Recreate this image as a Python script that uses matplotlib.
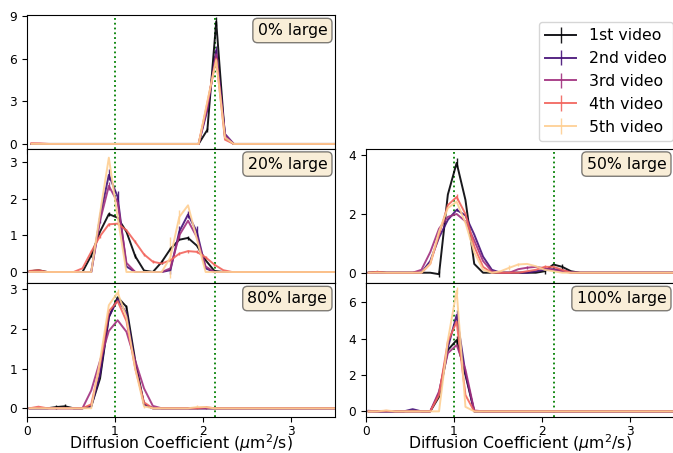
import numpy as np
import matplotlib
matplotlib.use("Agg")
import matplotlib.pyplot as plt

# ---------------- data ----------------
# bin centres (µm^2/s)
X_A = [0.05, 0.15, 0.25, 0.35, 0.45, 0.55, 0.65, 0.75, 0.85, 0.95, 1.05, 1.15,
       1.25, 1.35, 1.45, 1.55, 1.65, 1.75, 1.85, 1.95, 2.05, 2.15, 2.25, 2.35,
       2.45, 2.55, 2.65, 2.75, 2.85, 2.95, 3.05, 3.15, 3.25, 3.35, 3.45, 3.55]
X_B = [0.03, 0.13, 0.23, 0.33, 0.43, 0.53, 0.63, 0.73, 0.83, 0.93, 1.03, 1.13,
       1.23, 1.33, 1.43, 1.53, 1.63, 1.73, 1.83, 1.93, 2.03, 2.13, 2.23, 2.33,
       2.43, 2.53, 2.63, 2.73, 2.83, 2.93, 3.03, 3.13, 3.23, 3.33, 3.43, 3.53]

videos = ["1st video", "2nd video", "3rd video", "4th video", "5th video"]
panels = ["0% large", "20% large", "80% large", "50% large", "100% large"]
ref_lines = [1.0, 2.14]

p0_v1 = [0, 0, 0, 0, 0, 0, 0, 0, 0, 0, 0, 0, 0, 0, 0, 0, 0, 0, 0, 0, 1.0, 8.6, 0.45, 0, 0, 0, 0, 0, 0, 0, 0, 0, 0, 0, 0, 0]
p0_v2 = [0, 0, 0, 0, 0, 0, 0, 0, 0, 0, 0, 0, 0, 0, 0, 0, 0, 0, 0, 0, 2.4, 6.6, 0.7, 0, 0, 0, 0, 0, 0, 0, 0, 0, 0, 0, 0, 0]
p0_v3 = [0, 0, 0, 0, 0, 0, 0, 0, 0, 0, 0, 0, 0, 0, 0, 0, 0, 0, 0, 0, 2.6, 6.3, 0.6, 0, 0, 0, 0, 0, 0, 0, 0, 0, 0, 0, 0, 0]
p0_v4 = [0.05, 0.04, 0, 0, 0, 0, 0, 0, 0, 0, 0, 0, 0, 0, 0, 0, 0, 0, 0, 0, 2.9, 6.0, 0.3, 0, 0, 0, 0, 0, 0, 0, 0, 0, 0, 0, 0, 0]
p0_v5 = [0, 0, 0, 0, 0, 0, 0, 0, 0, 0, 0, 0, 0, 0, 0, 0, 0, 0, 0, 0, 3.0, 5.9, 0.45, 0, 0, 0, 0, 0, 0, 0, 0, 0, 0, 0, 0, 0]

p20_v1 = [0.02, 0.05, 0, 0, 0, 0, 0, 0.45, 1.1, 1.58, 1.48, 1.1, 0.43, 0.04, 0, 0.27, 0.63, 0.88, 0.93, 0.72, 0.32, 0.03, 0, 0, 0, 0, 0, 0, 0, 0, 0, 0, 0, 0, 0, 0]
p20_v2 = [0, 0, 0, 0, 0, 0, 0, 0, 1.5, 2.65, 2.05, 0.15, 0, 0, 0, 0, 0.05, 1.1, 1.57, 1.1, 0.1, 0, 0, 0, 0, 0, 0, 0, 0, 0, 0, 0, 0, 0, 0, 0]
p20_v3 = [0, 0, 0, 0, 0, 0, 0, 0, 1.4, 2.35, 1.9, 0.25, 0, 0, 0, 0, 0.1, 1.0, 1.4, 0.95, 0.15, 0, 0, 0, 0, 0, 0, 0, 0, 0, 0, 0, 0, 0, 0, 0]
p20_v4 = [0.03, 0.05, 0, 0, 0, 0, 0.1, 0.55, 0.98, 1.3, 1.32, 1.14, 0.82, 0.48, 0.28, 0.23, 0.32, 0.5, 0.57, 0.55, 0.4, 0.2, 0.05, 0, 0, 0, 0, 0, 0, 0, 0, 0, 0, 0, 0, 0]
p20_v5 = [0, 0, 0, 0, 0, 0, 0, 0, 1.6, 3.12, 1.5, 0, 0, 0, 0, 0, 0.4, 1.5, 1.82, 0.9, 0, 0, 0, 0, 0, 0, 0, 0, 0, 0, 0, 0, 0, 0, 0, 0]

p80_v1 = [0, 0, 0, 0.03, 0.05, 0, 0, 0.05, 0.75, 2.3, 2.8, 2.56, 1.2, 0.1, 0, 0, 0, 0, 0, 0, 0, 0, 0, 0, 0, 0, 0, 0, 0, 0, 0, 0, 0, 0, 0, 0]
p80_v2 = [0, 0, 0, 0, 0, 0, 0, 0.05, 0.85, 2.3, 2.75, 2.4, 1.1, 0.1, 0, 0, 0, 0, 0, 0, 0, 0, 0, 0, 0, 0, 0, 0, 0, 0, 0, 0, 0, 0, 0, 0]
p80_v3 = [0, 0, 0, 0, 0, 0, 0, 0.45, 1.2, 1.95, 2.22, 1.93, 1.2, 0.5, 0.06, 0, 0, 0, 0, 0, 0, 0, 0, 0, 0, 0, 0, 0, 0, 0, 0, 0, 0, 0, 0, 0]
p80_v4 = [0, 0.04, 0, 0, 0, 0, 0, 0.1, 1.1, 2.45, 2.7, 2.2, 1.0, 0.15, 0, 0, 0, 0, 0, 0, 0.03, 0, 0, 0, 0, 0, 0, 0, 0, 0, 0, 0, 0, 0, 0, 0]
p80_v5 = [0, 0, 0, 0, 0, 0, 0, 0, 1.2, 2.6, 2.92, 2.3, 1.0, 0.05, 0, 0, 0, 0, 0, 0.03, 0.03, 0, 0, 0, 0, 0, 0, 0, 0, 0, 0, 0, 0, 0, 0, 0]

p50_v1 = [0, 0.03, 0, 0, 0, 0, 0, 0, -0.05, 2.66, 3.74, 2.48, 0.3, 0, 0, 0, 0, 0, 0, 0, 0.05, 0.28, 0.2, 0.05, 0, 0, 0, 0, 0, 0, 0, 0, 0, 0, 0, 0]
p50_v2 = [0, 0, 0, 0, 0, 0, 0, 0.4, 1.2, 1.8, 2.14, 1.95, 1.3, 0.55, 0.1, 0, 0, 0, 0, 0.05, 0.1, 0.12, 0.08, 0.03, 0, 0, 0, 0, 0, 0, 0, 0, 0, 0, 0, 0]
p50_v3 = [0, 0, 0, 0, 0, 0, 0.1, 0.7, 1.5, 1.9, 2.0, 1.75, 1.1, 0.4, 0.05, 0, 0, 0.12, 0.17, 0.2, 0.15, 0.1, 0.05, 0, 0, 0, 0, 0, 0, 0, 0, 0, 0, 0, 0, 0]
p50_v4 = [0, 0.03, 0, 0, 0, 0, 0, 0.3, 1.3, 2.3, 2.58, 2.0, 0.9, 0.2, 0, 0, 0, 0, 0.05, 0.1, 0.2, 0.2, 0.1, 0, 0, 0, 0, 0, 0, 0, 0, 0, 0, 0, 0, 0]
p50_v5 = [0, 0, 0, 0, 0, 0, 0, 0.3, 1.4, 2.2, 2.42, 1.7, 0.7, 0.1, 0, 0.05, 0.17, 0.28, 0.3, 0.22, 0.1, 0.05, 0, 0, 0, 0, 0, 0, 0, 0, 0, 0, 0, 0, 0, 0]

p100_v1 = [0, 0, 0, 0, 0, 0, 0, 0, 0.8, 3.37, 3.92, 2.0, 0, 0, 0, 0, 0, 0, 0, 0, 0, 0, 0, 0, 0, 0, 0, 0, 0, 0, 0, 0, 0, 0, 0, 0]
p100_v2 = [0.03, 0, 0, 0, 0, 0.12, 0, 0, 1.0, 3.5, 5.3, 2.1, 0, 0, 0, 0, 0, 0, 0, 0, 0, 0, 0, 0, 0, 0, 0, 0, 0, 0, 0, 0, 0, 0, 0, 0]
p100_v3 = [0, 0, 0, 0, 0, 0, 0, 0, 1.1, 3.2, 3.65, 2.3, 0.05, 0, 0, 0, 0, 0, 0, 0, 0, 0, 0, 0, 0, 0, 0, 0, 0, 0, 0, 0, 0, 0, 0, 0]
p100_v4 = [0, 0, 0.03, 0, 0, 0, 0, 0, 0.9, 3.83, 4.93, 0.9, 0, 0, 0, 0, 0, 0, 0, 0, 0, 0, 0, 0, 0, 0, 0, 0, 0, 0, 0, 0, 0, 0, 0, 0]
p100_v5 = [0, 0, 0.05, 0, 0, 0, 0, 0, 0, 3.9, 6.64, 0.25, 0, 0, 0, 0, 0, 0, 0, 0, 0, 0, 0, 0, 0, 0, 0, 0, 0, 0, 0, 0, 0, 0, 0, 0]

# sparse error bars {video index: {bin index: error}}
p0_err = {0: {20: 0.15, 21: 0.3}, 1: {21: 0.3}, 2: {21: 0.3}, 3: {21: 0.2}, 4: {21: 0.2}}
p20_err = {0: {7: 0.05, 9: 0.06, 12: 0.05, 15: 0.05, 16: 0.06, 18: 0.06},
           1: {8: 0.15, 9: 0.15, 10: 0.15, 16: 0.1, 17: 0.15, 18: 0.1, 19: 0.15},
           2: {9: 0.1, 17: 0.1},
           3: {7: 0.04, 8: 0.04, 9: 0.04, 10: 0.04, 11: 0.04, 12: 0.04, 13: 0.04, 14: 0.04,
               16: 0.04, 17: 0.04, 18: 0.04, 19: 0.04, 20: 0.04, 21: 0.04},
           4: {16: 0.55, 17: 0.2}}
p80_err = {0: {3: 0.05, 4: 0.05, 11: 0.05}, 3: {20: 0.04}, 4: {10: 0.1, 13: 0.05, 19: 0.05}}
p50_err = {0: {8: 0.1, 10: 0.15, 20: 0.1, 22: 0.1}, 1: {10: 0.05}, 2: {18: 0.05},
           3: {10: 0.1, 20: 0.05}, 4: {16: 0.08, 17: 0.05}}
p100_err = {0: {10: 0.2}, 1: {10: 0.3}, 3: {10: 0.2}, 4: {10: 0.2}}

panel_data = [
    (X_A, [p0_v1, p0_v2, p0_v3, p0_v4, p0_v5], p0_err),
    (X_B, [p20_v1, p20_v2, p20_v3, p20_v4, p20_v5], p20_err),
    (X_B, [p80_v1, p80_v2, p80_v3, p80_v4, p80_v5], p80_err),
    (X_B, [p50_v1, p50_v2, p50_v3, p50_v4, p50_v5], p50_err),
    (X_B, [p100_v1, p100_v2, p100_v3, p100_v4, p100_v5], p100_err),
]
ylims = [(-0.32, 9.07), (-0.3, 3.37), (-0.22, 3.16), (-0.35, 4.23), (-0.31, 7.06)]
yticks = [[0, 3, 6, 9], [0, 1, 2, 3], [0, 1, 2, 3], [0, 2, 4], [0, 2, 4, 6]]

# ---------------- figure ----------------
W, H = 673, 453
fig = plt.figure(figsize=(W / 100, H / 100), dpi=100)

def fa(x0, y0, x1, y1):
    return [x0 / W, 1 - y1 / H, (x1 - x0) / W, (y1 - y0) / H]

rects = [fa(27, 15, 335, 148.5), fa(27, 148.5, 335, 283), fa(27, 283, 335, 417),
         fa(366, 148.5, 674, 283), fa(366, 283, 674, 417)]

colors = plt.cm.magma(np.linspace(0, 0.9, 5))
TICK_FS = 8.7
BIG_FS = 11.3

handles = []
for i, (rect, (xs, series, errs)) in enumerate(zip(rects, panel_data)):
    ax = fig.add_axes(rect)
    for j, ys in enumerate(series):
        yerr = np.zeros(len(ys))
        for k, e in errs.get(j, {}).items():
            yerr[k] = e
        h = ax.errorbar(xs, ys, yerr=yerr, color=colors[j], lw=1.4, elinewidth=1.0,
                        alpha=0.9, label=videos[j])
        if i == 0:
            handles.append(h)
    for xv in ref_lines:
        ax.axvline(xv, color="green", ls=":", lw=1.3)
    ax.set_xlim(0, 3.5)
    ax.set_ylim(*ylims[i])
    ax.set_yticks(yticks[i])
    ax.set_xticks([0, 1, 2, 3])
    ax.tick_params(labelsize=TICK_FS)
    ax.tick_params(axis="x", pad=2.5)
    if i in (2, 4):
        ax.set_xlabel(r"Diffusion Coefficient ($\mu$m$^2$/s)", fontsize=BIG_FS, labelpad=-4.5)
    else:
        ax.tick_params(labelbottom=False)
    ax.text(0.975, 0.94, panels[i], transform=ax.transAxes, ha="right", va="top",
            fontsize=BIG_FS,
            bbox=dict(boxstyle="round", facecolor="wheat", alpha=0.5))

fig.legend(handles=handles, labels=videos, loc="upper right",
           bbox_to_anchor=(1.0, 1 - 22 / H), borderaxespad=0, fontsize=BIG_FS)

fig.savefig("out.png", dpi=100)
